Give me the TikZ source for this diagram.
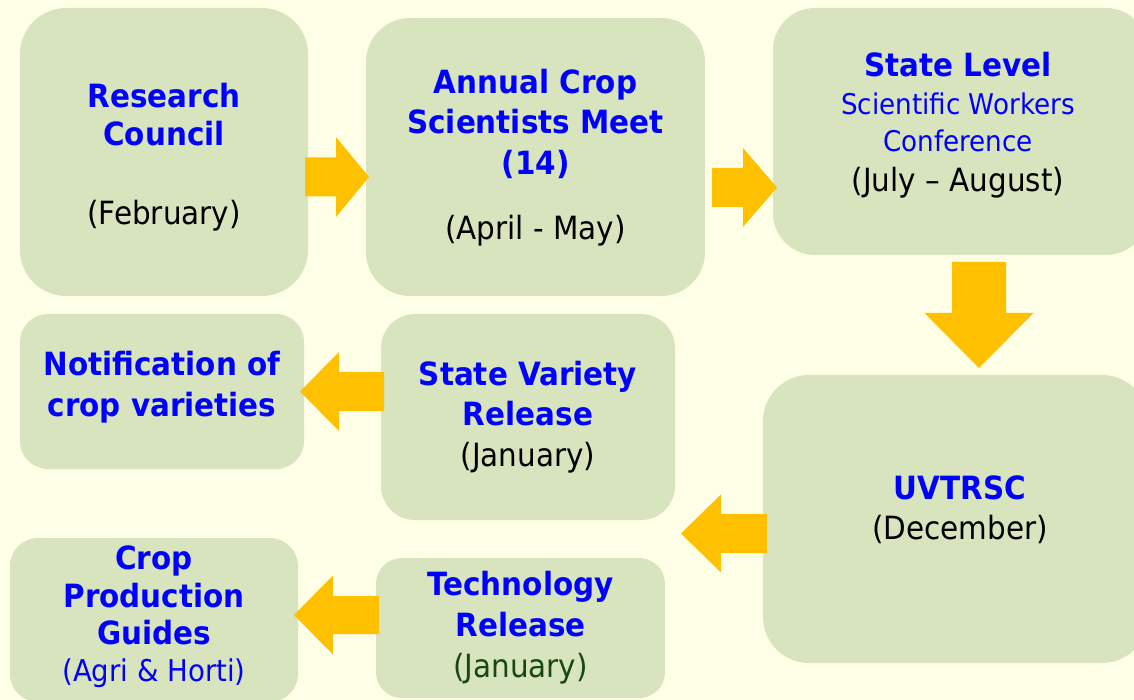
\documentclass[tikz,border=0pt]{standalone}
\usepackage{fontspec}
\setmainfont{DejaVu Sans}[FakeStretch=0.92]
\definecolor{pagebg}{RGB}{255,255,232}
\definecolor{boxgreen}{RGB}{216,228,189}
\definecolor{arrowgold}{RGB}{255,192,0}
\definecolor{titleblue}{RGB}{0,0,255}
\definecolor{darkgreen}{RGB}{22,72,18}
% one line of bold blue heading text
\newcommand\boxtitle[1]{{\bfseries\color{titleblue}\strut#1}}
% one line of smaller regular blue text
\newcommand\subline[1]{{\fontsize{28.5}{38}\selectfont\color{titleblue}\strut#1}}
% horizontal block arrow: tail x, neck x, tip x, centre y, shaft half width, head half width
\newcommand\harrow[6]{%
  \fill[arrowfill] (#1,#4-#5) -- (#2,#4-#5) -- (#2,#4-#6) -- (#3,#4)
    -- (#2,#4+#6) -- (#2,#4+#5) -- (#1,#4+#5) -- cycle;}
% vertical block arrow: tail y, neck y, tip y, centre x, shaft half width, head half width
\newcommand\varrow[6]{%
  \fill[arrowfill] (#4-#5,#1) -- (#4-#5,#2) -- (#4-#6,#2) -- (#4,#3)
    -- (#4+#6,#2) -- (#4+#5,#2) -- (#4+#5,#1) -- cycle;}
\begin{document}
\begin{tikzpicture}[x=1pt,y=-1pt,
  panel/.style={fill=boxgreen, draw=none, inner sep=0pt},
  caption/.style={align=center, inner sep=0pt, font=\fontsize{32}{38}\selectfont},
  arrowfill/.style={fill=arrowgold}]
  \fill[pagebg] (0,0) rectangle (1134,700);
  \useasboundingbox (0,0) rectangle (1134,700);

  % rounded panels
  \node[panel, minimum width=288pt, minimum height=288pt, rounded corners=46pt] (rc) at (164,152) {};
  \node[panel, minimum width=339pt, minimum height=278pt, rounded corners=44pt] (acs) at (535.5,157) {};
  \node[panel, minimum width=375pt, minimum height=247pt, rounded corners=42pt] (sl) at (960.5,131.5) {};
  \node[panel, minimum width=385pt, minimum height=288pt, rounded corners=46pt] (uv) at (955.5,519) {};
  \node[panel, minimum width=284pt, minimum height=155pt, rounded corners=28pt] (nt) at (162,391.5) {};
  \node[panel, minimum width=294pt, minimum height=206pt, rounded corners=34pt] (sv) at (528,417) {};
  \node[panel, minimum width=288pt, minimum height=164pt, rounded corners=28pt] (cp) at (154,620) {};
  \node[panel, minimum width=289pt, minimum height=140pt, rounded corners=26pt] (tr) at (520.5,628) {};

  % panel texts
  \node[caption] (rc-t) at (164,158.4)
    {\boxtitle{Research}\\\boxtitle{Council}\\[41pt]\strut(February)};
  \node[caption] (acs-t) at (535.5,158.9)
    {\boxtitle{Annual Crop}\\[2pt]\boxtitle{Scientists Meet}\\[3pt]\boxtitle{(14)}\\[27pt]\strut(April - May)};
  \node[caption] (sl-t) at (958,126.4)
    {\boxtitle{State Level}\\\subline{Scientific Workers}\\[-1pt]\subline{Conference}\\[2pt]\strut(July – August)};
  \node[caption] (nt-t) at (162,388.4)
    {\boxtitle{Notification of}\\[3pt]\boxtitle{crop varieties}};
  \node[caption] (sv-t) at (528,418.4)
    {\boxtitle{State Variety}\\[2pt]\boxtitle{Release}\\[3pt]\strut(January)};
  \node[caption] (uv-t) at (960,512)
    {\boxtitle{UVTRSC}\\[2pt]\strut(December)};
  \node[caption] (cp-t) at (154,618)
    {\boxtitle{Crop}\\\boxtitle{Production}\\[-1pt]\boxtitle{Guides}\\[-1pt]{\fontsize{30}{38}\selectfont\color{titleblue}\strut(Agri \& Horti)}};
  \node[caption] (tr-t) at (520.5,629)
    {\boxtitle{Technology}\\[3pt]\boxtitle{Release}\\[3pt]{\color{darkgreen}\strut(January)}};

  % block arrows between the panels
  \harrow{305}{336}{369}{177}{19.5}{40}
  \harrow{712}{743}{777}{187.5}{19.5}{39.5}
  \varrow{262}{313}{368}{979}{27}{54.5}
  \harrow{384}{339}{300}{391.5}{19.5}{39.5}
  \harrow{767}{721}{681}{533.5}{19.5}{39}
  \harrow{379}{333}{294}{615}{19}{39.5}
\end{tikzpicture}
\end{document}
